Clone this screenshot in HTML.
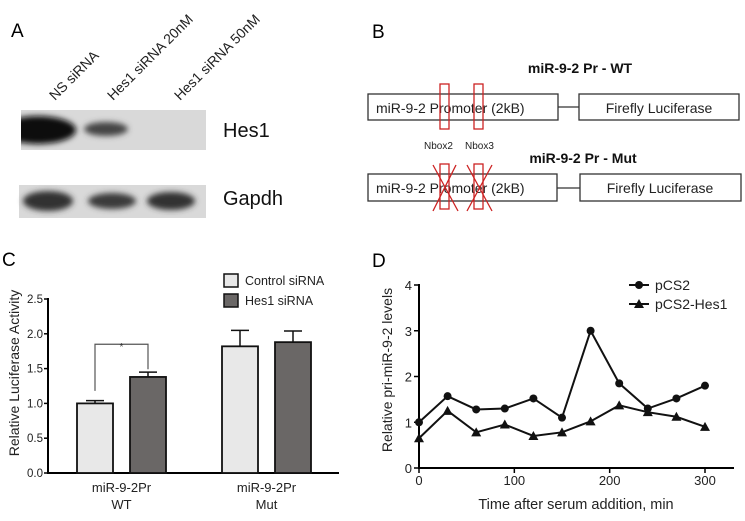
<!DOCTYPE html>
<html><head><meta charset="utf-8"><style>
body{margin:0;background:#fff;}
svg{display:block;font-family:"Liberation Sans",sans-serif;}
</style></head><body>
<svg id="fig" width="745" height="521" viewBox="0 0 745 521" xmlns="http://www.w3.org/2000/svg">
<defs>
<filter id="blur" x="-20%" y="-50%" width="140%" height="200%"><feGaussianBlur stdDeviation="3"/></filter>
<clipPath id="clipA"><rect x="21" y="110" width="185" height="40"/></clipPath>
</defs>
<!-- Panel A -->
<g>
<text x="11" y="37" font-size="19">A</text>
<g font-size="14" fill="#222">
<text transform="translate(55,101) rotate(-45)">NS siRNA</text>
<text transform="translate(113,101) rotate(-45)">Hes1 siRNA 20nM</text>
<text transform="translate(180,101) rotate(-45)">Hes1 siRNA 50nM</text>
</g>
<rect x="21" y="110" width="185" height="40" fill="#d9d9d9"/>
<g clip-path="url(#clipA)"><g filter="url(#blur)">
<ellipse cx="38" cy="130" rx="38" ry="14" fill="#0a0a0a"/>
<ellipse cx="106" cy="129" rx="22" ry="7" fill="#444"/>
</g></g>
<rect x="19" y="185" width="187" height="33" fill="#d9d9d9"/>
<g filter="url(#blur)">
<ellipse cx="48" cy="201" rx="25" ry="10" fill="#333"/>
<ellipse cx="112" cy="201" rx="24" ry="8" fill="#3a3a3a"/>
<ellipse cx="171" cy="201" rx="24" ry="9" fill="#333"/>
</g>
<text x="223" y="137" font-size="20" fill="#111">Hes1</text>
<text x="223" y="205" font-size="20" fill="#111">Gapdh</text>
</g>
<!-- Panel B -->
<g fill="none" stroke="#333" stroke-width="1.3">
<text x="372" y="38" font-size="19" fill="#000" stroke="none">B</text>
<text x="580" y="73" font-size="14" font-weight="bold" fill="#111" stroke="none" text-anchor="middle">miR-9-2 Pr - WT</text>
<rect x="368" y="94" width="190" height="26"/>
<text x="376" y="113" font-size="14" fill="#222" stroke="none">miR-9-2 Promoter (2kB)</text>
<line x1="558" y1="107" x2="579" y2="107"/>
<rect x="579" y="94" width="160" height="26"/>
<text x="659" y="113" font-size="14" fill="#222" stroke="none" text-anchor="middle">Firefly Luciferase</text>
<rect x="440" y="84" width="9" height="45" stroke="#c22"/>
<rect x="474" y="84" width="9" height="45" stroke="#c22"/>
<text x="424" y="149" font-size="10" fill="#222" stroke="none">Nbox2</text>
<text x="465" y="149" font-size="10" fill="#222" stroke="none">Nbox3</text>
<text x="583" y="163" font-size="14" font-weight="bold" fill="#111" stroke="none" text-anchor="middle">miR-9-2 Pr - Mut</text>
<rect x="368" y="174" width="189" height="27"/>
<text x="376" y="193" font-size="14" fill="#222" stroke="none">miR-9-2 Promoter (2kB)</text>
<line x1="557" y1="188" x2="580" y2="188"/>
<rect x="580" y="174" width="161" height="27"/>
<text x="660" y="193" font-size="14" fill="#222" stroke="none" text-anchor="middle">Firefly Luciferase</text>
<g stroke="#c22">
<rect x="440" y="164" width="9" height="45"/>
<rect x="474" y="164" width="9" height="45"/>
<line x1="433" y1="165" x2="458" y2="211"/><line x1="456" y1="165" x2="433" y2="211"/>
<line x1="467" y1="165" x2="492" y2="211"/><line x1="492" y1="165" x2="467" y2="211"/>
</g>
</g>
<g id="panelC"></g>
<g id="panelD"></g>
</svg>
<script>
const NS='http://www.w3.org/2000/svg';
function mk(p,tag,attrs,txt){const e=document.createElementNS(NS,tag);for(const k in attrs)e.setAttribute(k,attrs[k]);if(txt!==undefined)e.textContent=txt;p.appendChild(e);return e;}

// Panel C data
const cCategories=['WT','Mut'];
const cControl=[1.00,1.82];
const cHes1=[1.38,1.88];
const cControlErr=[0.04,0.23];
const cHes1Err=[0.07,0.16];
const cTicks=['0.0','0.5','1.0','1.5','2.0','2.5'];

// Panel D data
const dTimes=[0,30,60,90,120,150,180,210,240,270,300];
const dPCS2=[1.0,1.57,1.28,1.3,1.52,1.1,3.0,1.85,1.3,1.52,1.8];
const dPCS2Hes1=[0.65,1.25,0.78,0.95,0.7,0.78,1.02,1.37,1.22,1.12,0.9];
const dYTicks=['0','1','2','3','4'];
const dXTicks=['0','100','200','300'];

(function(){
const g=document.getElementById('panelC');
const y=v=>473-v*(174/2.5);
let t;
t=mk(g,'text',{x:2,y:266,'font-size':19});t.textContent='C';


mk(g,'line',{x1:48,y1:298,x2:48,y2:473,stroke:'#000','stroke-width':2});
mk(g,'line',{x1:47,y1:473,x2:339,y2:473,stroke:'#000','stroke-width':2});
cTicks.forEach(s=>{const v=parseFloat(s);
 mk(g,'line',{x1:44,y1:y(v),x2:48,y2:y(v),stroke:'#000','stroke-width':1.5});
 const tt=mk(g,'text',{x:43,y:y(v)+4,'font-size':11.5,'text-anchor':'end',fill:'#222'},s);
 
 
});
t=mk(g,'text',{transform:'translate(19,373) rotate(-90)','font-size':14,'text-anchor':'middle',fill:'#222'},'Relative Luciferase Activity');


const groupX=[77,222], bw=36, gap=53;
cCategories.forEach((c,i)=>{
 [[cControl,cControlErr,'#e8e8e8',0],[cHes1,cHes1Err,'#6a6766',1]].forEach(([vals,errs,fill,k])=>{
  const x=groupX[i]+k*gap, v=vals[i], top=y(v), et=y(v+errs[i]);
  mk(g,'line',{x1:x+bw/2,y1:top,x2:x+bw/2,y2:et,stroke:'#111','stroke-width':1.5});
  mk(g,'line',{x1:x+bw/2-9,y1:et,x2:x+bw/2+9,y2:et,stroke:'#111','stroke-width':1.5});
  const r=mk(g,'rect',{x:x,y:top,width:bw,height:473-top,fill:fill,stroke:'#111','stroke-width':1.8});
  
  
 });
 const cx=groupX[i]+(bw+gap)/2;
 const l1=mk(g,'text',{x:cx,y:492,'font-size':13,'text-anchor':'middle',fill:'#222'},'miR-9-2Pr');
 
 
 const l2=mk(g,'text',{x:cx,y:509,'font-size':13,'text-anchor':'middle',fill:'#222'},c);
 
 
});
const bx1=groupX[0]+bw/2, bx2=groupX[0]+gap+bw/2, by=y(cHes1[0]+cHes1Err[0]+0.4);
const br=mk(g,'path',{d:`M${bx1},${y(cControl[0]+cControlErr[0]+0.14)}V${by}H${bx2}V${y(cHes1[0]+cHes1Err[0]+0.04)}`,fill:'none',stroke:'#555','stroke-width':1.2});


t=mk(g,'text',{x:(bx1+bx2)/2,y:by+6,'font-size':10,'text-anchor':'middle',fill:'#333'},'*');


[['Control siRNA','#e8e8e8',274],['Hes1 siRNA','#6a6766',294]].forEach(([lab,f,ly])=>{
 const lg=mk(g,'g',{});
 
 
 mk(lg,'rect',{x:224,y:ly,width:14,height:13,fill:f,stroke:'#111','stroke-width':1.5});
 mk(lg,'text',{x:245,y:ly+11,'font-size':12.5,fill:'#222'},lab);
});
})();

(function(){
const g=document.getElementById('panelD');
const x=v=>419+v*(286/300), y=v=>468-v*(183/4);
let t;
t=mk(g,'text',{x:372,y:267,'font-size':19});t.textContent='D';


mk(g,'line',{x1:419,y1:284,x2:419,y2:469,stroke:'#000','stroke-width':2});
mk(g,'line',{x1:418,y1:468,x2:734,y2:468,stroke:'#000','stroke-width':2});
dYTicks.forEach(s=>{const v=+s;
 mk(g,'line',{x1:414,y1:y(v),x2:419,y2:y(v),stroke:'#000','stroke-width':1.5});
 const tt=mk(g,'text',{x:412,y:y(v)+5,'font-size':13,'text-anchor':'end',fill:'#222'},s);
 
 
});
dXTicks.forEach(s=>{const v=+s;
 mk(g,'line',{x1:x(v),y1:468,x2:x(v),y2:473,stroke:'#000','stroke-width':1.5});
 const tt=mk(g,'text',{x:x(v),y:485,'font-size':13,'text-anchor':'middle',fill:'#222'},s);
 
 
});
t=mk(g,'text',{x:576,y:509,'font-size':14.5,'text-anchor':'middle',fill:'#222'},'Time after serum addition, min');


t=mk(g,'text',{transform:'translate(392,370) rotate(-90)','font-size':14,'text-anchor':'middle',fill:'#222'},'Relative pri-miR-9-2 levels');


function series(vals,name,marker){
 const pts=dTimes.map((tm,i)=>x(tm)+','+y(vals[i])).join(' ');
 const pl=mk(g,'polyline',{points:pts,fill:'none',stroke:'#111','stroke-width':2});
 
 
 dTimes.forEach((tm,i)=>{const px=x(tm),py=y(vals[i]);
  let m;
  if(marker==='circle') m=mk(g,'circle',{cx:px,cy:py,r:4,fill:'#111'});
  else m=mk(g,'polygon',{points:`${px},${py-5} ${px-5},${py+4} ${px+5},${py+4}`,fill:'#111'});
  
  
 });
}
series(dPCS2,'pcs2','circle');
series(dPCS2Hes1,'pcs2-hes1','triangle');
[['pCS2','circle',285],['pCS2-Hes1','triangle',304]].forEach(([lab,mkr,ly])=>{
 const lg=mk(g,'g',{});
 
 
 mk(lg,'line',{x1:629,y1:ly,x2:649,y2:ly,stroke:'#111','stroke-width':2});
 if(mkr==='circle') mk(lg,'circle',{cx:639,cy:ly,r:4,fill:'#111'});
 else mk(lg,'polygon',{points:`639,${ly-5} 634,${ly+4} 644,${ly+4}`,fill:'#111'});
 mk(lg,'text',{x:655,y:ly+5,'font-size':14,fill:'#222'},lab);
});
})();
</script>
</body></html>
